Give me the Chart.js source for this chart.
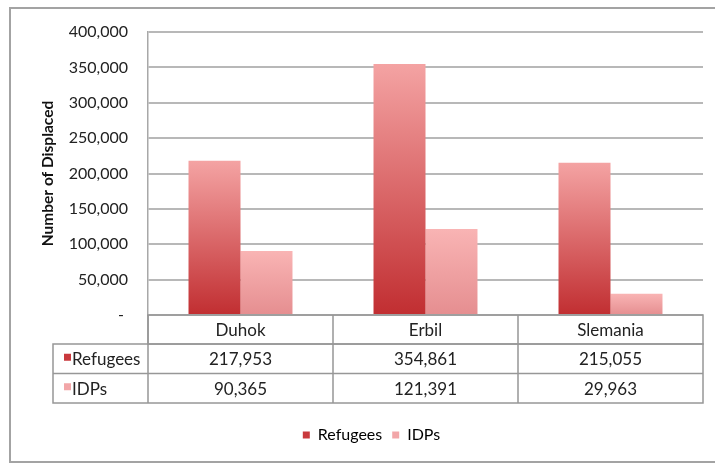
<!DOCTYPE html>
<html>
<head>
<meta charset="utf-8">
<script src="https://cdn.jsdelivr.net/npm/chart.js@4"></script>
<style>
  html, body { margin: 0; padding: 0; background: #fff; }
  #wrap { width: 715px; height: 464px; }
</style>
</head>
<body>
<div id="wrap"><canvas id="displacedChart" width="715" height="464"></canvas></div>
<script>
// datos
const provinces = ["Duhok", "Erbil", "Slemania"];
const seriesNames = ["Refugees", "IDPs"];
const refugees = [217953, 354861, 215055];
const idps = [90365, 121391, 29963];
const yTicks = [0, 50000, 100000, 150000, 200000, 250000, 300000, 350000, 400000];

// colores (arriba -> abajo del degradado, y color de la leyenda)
const refugeeTop = "#f4a3a3", refugeeBottom = "#c12e31", refugeeKey = "#c9393d";
const idpTop = "#f9b4b4", idpBottom = "#e58e90", idpKey = "#f2a6a8";

const FONT = "Lato, 'Open Sans', sans-serif";

function fmt(v) {
  return v === 0 ? "- " : v.toLocaleString("en-US");
}

// degradado vertical por barra
function barGradient(top, bottom) {
  return function (ctx) {
    const chart = ctx.chart;
    const area = chart.chartArea;
    if (!area || ctx.raw == null) return bottom;
    const y = chart.scales.y.getPixelForValue(ctx.raw);
    const g = chart.ctx.createLinearGradient(0, y, 0, area.bottom);
    g.addColorStop(0, top);
    g.addColorStop(1, bottom);
    return g;
  };
}

// tabla de datos debajo del grafico + marco exterior
const dataTablePlugin = {
  id: "dataTable",
  afterLayout(chart) {
    // la leyenda del original esta algo corrida a la derecha
    chart.legend.left += 20;
    chart.legend.right += 20;
  },
  afterDraw(chart) {
    const c = chart.ctx;
    const area = chart.chartArea;
    const n = provinces.length;
    const colW = (area.right - area.left) / n;
    const headTop = area.bottom, headH = 29, rowH = 29.5;
    const rowsTop = headTop + headH;
    const tableLeft = 53;
    const rows = [
      { name: seriesNames[0], values: refugees, key: refugeeKey },
      { name: seriesNames[1], values: idps, key: idpKey }
    ];
    const tableBottom = rowsTop + rowH * rows.length;

    c.save();
    c.strokeStyle = "#979797";
    c.lineWidth = 1.5;
    // encabezado
    c.strokeRect(area.left, headTop, area.right - area.left, headH);
    // filas
    c.strokeRect(tableLeft, rowsTop, area.right - tableLeft, tableBottom - rowsTop);
    c.beginPath();
    for (let r = 1; r < rows.length; r++) {
      c.moveTo(tableLeft, rowsTop + r * rowH);
      c.lineTo(area.right, rowsTop + r * rowH);
    }
    for (let i = 0; i < n; i++) {
      const x = area.left + i * colW;
      c.moveTo(x, headTop);
      c.lineTo(x, tableBottom);
    }
    c.stroke();

    c.fillStyle = "#222";
    c.font = "17px " + FONT;
    c.textBaseline = "middle";
    c.textAlign = "center";
    provinces.forEach((p, i) => {
      c.fillText(p, chart.scales.x.getPixelForValue(i), headTop + headH / 2 + 1);
    });
    rows.forEach((row, r) => {
      const cy = rowsTop + r * rowH + rowH / 2 + 1;
      c.textAlign = "center";
      c.fillStyle = "#222";
      row.values.forEach((v, i) => {
        c.fillText(fmt(v), chart.scales.x.getPixelForValue(i), cy);
      });
      c.fillStyle = row.key;
      c.fillRect(tableLeft + 11, cy - 6, 7, 7);
      c.fillStyle = "#222";
      c.textAlign = "left";
      c.fillText(row.name, tableLeft + 19, cy);
    });

    // marco exterior
    c.strokeStyle = "#a3a3a3";
    c.lineWidth = 2;
    c.beginPath();
    c.moveTo(716, 8);
    c.lineTo(10, 8);
    c.lineTo(10, 462);
    c.lineTo(716, 462);
    c.stroke();
    c.restore();
  }
};

const ctx = document.getElementById("displacedChart").getContext("2d");
const displacedChart = new Chart(ctx, {
  type: "bar",
  data: {
    labels: provinces,
    datasets: [
      {
        label: seriesNames[0],
        data: refugees,
        backgroundColor: barGradient(refugeeTop, refugeeBottom),
        borderWidth: 0,
        categoryPercentage: 0.562,
        barPercentage: 1
      },
      {
        label: seriesNames[1],
        data: idps,
        backgroundColor: barGradient(idpTop, idpBottom),
        borderWidth: 0,
        categoryPercentage: 0.562,
        barPercentage: 1
      }
    ]
  },
  options: {
    responsive: false,
    animation: false,
    events: [],
    layout: { padding: { top: 32, right: 12, left: 0, bottom: 11 } },
    scales: {
      x: {
        grid: { display: false },
        border: { display: false },
        ticks: { display: false },
        afterFit: scale => { scale.height = 102; }
      },
      y: {
        min: 0,
        max: 400000,
        afterFit: scale => { scale.width = 148; },
        afterBuildTicks: scale => { scale.ticks = yTicks.map(v => ({ value: v })); },
        ticks: {
          padding: 20,
          color: "#222",
          font: { family: FONT, size: 16 },
          callback: v => fmt(v)
        },
        grid: { color: "#b8b8b8", lineWidth: 2, drawTicks: false },
        border: { display: true, color: "#a8a8a8", width: 1.5 },
        title: {
          display: true,
          text: "Number of Displaced",
          color: "#111",
          font: { family: FONT, size: 15.5, weight: "bold" },
          padding: { top: 39, bottom: 0 }
        }
      }
    },
    plugins: {
      tooltip: { enabled: false },
      legend: {
        position: "bottom",
        labels: {
          boxWidth: 7,
          boxHeight: 7,
          padding: 10,
          color: "#222",
          font: { family: FONT, size: 16 },
          generateLabels: () => [
            { text: seriesNames[0], fillStyle: refugeeKey, strokeStyle: refugeeKey, lineWidth: 0, datasetIndex: 0 },
            { text: seriesNames[1], fillStyle: idpKey, strokeStyle: idpKey, lineWidth: 0, datasetIndex: 1 }
          ]
        }
      }
    }
  },
  plugins: [dataTablePlugin]
});
</script>
</body>
</html>
